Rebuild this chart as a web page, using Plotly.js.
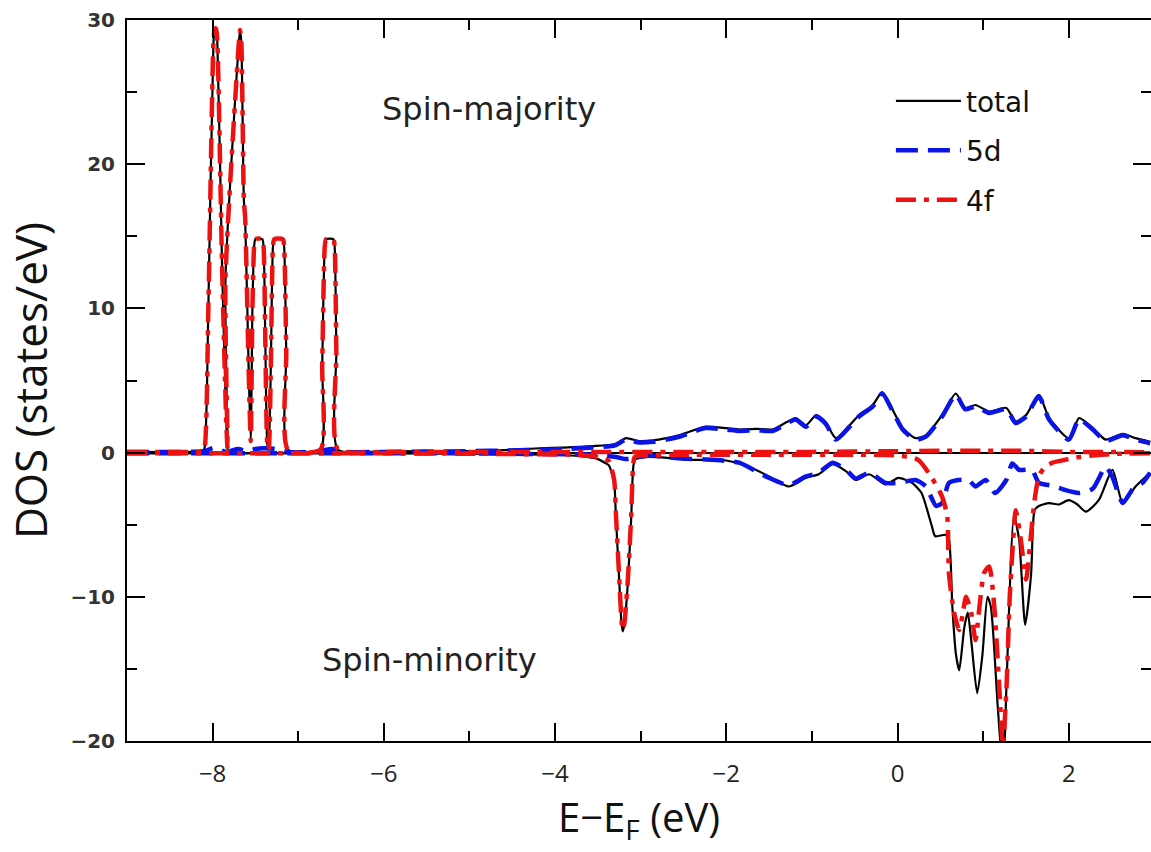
<!DOCTYPE html>
<html>
<head>
<meta charset="utf-8">
<script src="https://cdn.plot.ly/plotly-3.0.1.min.js"></script>
<style>html,body{margin:0;padding:0;background:#fff;}#chart{width:1151px;height:852px;}</style>
</head>
<body>
<div id="chart"></div>
<script>
// Energies (eV, relative to E_F) and DOS values (states/eV)
const totalUpE = [-9.0,-8.3,-8.12,-8.095,-8.05,-7.99,-7.975,-7.96,-7.945,-7.89,-7.84,-7.825,-7.85,-7.695,-7.68,-7.665,-7.635,-7.62,-7.58,-7.555,-7.535,-7.515,-7.50,-7.42,-7.405,-7.385,-7.36,-7.345,-7.32,-7.295,-7.28,-7.18,-7.165,-7.14,-7.12,-6.74,-6.72,-6.69,-6.675,-6.59,-6.575,-6.555,-6.535,-6.0,-5.0,-4.5,-4.18,-3.9,-3.56,-3.3,-3.17,-3.02,-2.85,-2.70,-2.55,-2.43,-2.24,-2.0,-1.85,-1.65,-1.46,-1.30,-1.19,-1.07,-0.95,-0.84,-0.72,-0.56,-0.45,-0.29,-0.18,-0.06,0.06,0.21,0.33,0.52,0.68,0.79,0.91,1.07,1.27,1.38,1.50,1.65,1.77,2.00,2.12,2.28,2.43,2.63,2.78,2.95];
const totalUp  = [0.05,0.05,0.1,0.3,10,28.5,29.4,29.4,28.5,13,2,0.2,12,28.3,29.3,28.5,17.5,16.3,6,0.8,10,14.3,14.8,14.8,14.3,8,0.5,0.2,6,14.3,14.8,14.8,14.3,7,0.2,0.2,6,14.3,14.8,14.8,14.3,7,0.2,0.1,0.1,0.2,0.3,0.35,0.45,0.6,1.0,0.8,0.85,1.0,1.2,1.45,1.8,1.7,1.6,1.65,1.6,2.1,2.4,1.9,2.6,2.1,1.0,1.9,2.6,3.3,4.2,3.0,1.7,1.0,1.2,2.6,4.1,3.1,3.3,2.85,3.1,2.15,2.6,4.0,2.4,1.0,2.4,1.7,0.9,1.3,1.0,0.75];

const totalDnE = [-9.0,-6.0,-4.5,-4.0,-3.7,-3.5,-3.42,-3.37,-3.31,-3.29,-3.25,-3.225,-3.21,-3.19,-3.15,-3.11,-3.09,-3.07,-3.0,-2.9,-2.63,-2.47,-2.2,-2.0,-1.77,-1.5,-1.27,-1.07,-0.92,-0.76,-0.6,-0.49,-0.33,-0.14,0.01,0.17,0.28,0.40,0.44,0.56,0.60,0.64,0.68,0.72,0.78,0.82,0.86,0.93,0.99,1.05,1.09,1.17,1.21,1.24,1.27,1.36,1.42,1.49,1.56,1.60,1.65,1.77,1.88,2.0,2.1,2.2,2.35,2.51,2.63,2.78,2.95];
const totalDn  = [-0.05,-0.05,-0.1,-0.15,-0.25,-0.45,-0.7,-0.9,-2.1,-4.4,-9.0,-11.8,-12.4,-11.9,-9.0,-4.4,-1.2,-0.5,-0.35,-0.3,-0.4,-0.5,-0.5,-0.55,-0.9,-1.65,-2.35,-1.75,-1.5,-0.8,-1.3,-1.9,-1.5,-2.2,-1.75,-2.1,-2.8,-5.1,-5.8,-5.7,-6.05,-10.7,-13.9,-15.1,-12.1,-11.1,-13.0,-16.7,-14.1,-10.0,-10.7,-17.6,-20.5,-21.0,-16.5,-4.4,-6.05,-11.95,-8.4,-4.0,-3.7,-3.5,-3.6,-3.3,-3.6,-4.1,-3.3,-1.2,-3.5,-2.35,-1.4];

const d5UpE = [-9.0,-8.3,-8.1,-7.97,-7.85,-7.7,-7.6,-7.5,-7.4,-7.25,-7.1,-6.8,-6.62,-6.45,-6.0,-5.0,-4.5,-4.18,-3.9,-3.56,-3.3,-3.17,-3.02,-2.85,-2.70,-2.55,-2.43,-2.24,-2.0,-1.85,-1.65,-1.46,-1.30,-1.19,-1.07,-0.95,-0.84,-0.72,-0.56,-0.45,-0.29,-0.18,-0.06,0.06,0.21,0.33,0.52,0.68,0.79,0.91,1.07,1.27,1.38,1.50,1.65,1.77,2.00,2.12,2.28,2.43,2.63,2.78,2.95];
const d5Up  = [0.05,0.05,0.1,0.35,0.05,0.25,0.1,0.25,0.3,0.25,0.05,0.05,0.25,0.05,0.05,0.1,0.15,0.2,0.25,0.35,0.5,0.9,0.7,0.75,0.9,1.1,1.35,1.7,1.6,1.5,1.55,1.5,2.0,2.3,1.8,2.5,2.0,0.9,1.8,2.5,3.2,4.1,2.9,1.6,0.9,1.1,2.5,4.0,3.0,3.2,2.75,3.0,2.05,2.5,3.9,2.3,0.9,2.3,1.6,0.8,1.2,0.9,0.65];

const d5DnE = [-9.0,-8.0,-7.0,-6.0,-5.0,-4.5,-4.18,-3.56,-3.29,-3.17,-2.9,-2.55,-2.16,-1.85,-1.54,-1.27,-1.07,-0.92,-0.76,-0.6,-0.49,-0.33,-0.14,0.01,0.21,0.33,0.45,0.52,0.60,0.71,0.83,0.91,1.03,1.14,1.27,1.34,1.42,1.57,1.65,1.81,1.96,2.12,2.28,2.43,2.51,2.63,2.75,2.86,2.95];
const d5Dn  = [-0.05,-0.05,-0.05,-0.05,-0.05,-0.08,-0.1,-0.15,-0.3,-0.45,-0.2,-0.4,-0.5,-0.7,-1.65,-2.25,-1.65,-1.4,-0.7,-1.2,-1.8,-1.4,-2.1,-2.1,-1.9,-2.35,-3.7,-3.5,-2.1,-1.9,-1.9,-2.35,-1.9,-2.8,-1.9,-0.75,-1.2,-1.2,-2.1,-2.3,-2.6,-2.8,-2.5,-1.0,-1.7,-3.5,-2.5,-2.1,-1.4];

const f4UpE = [-9.0,-8.3,-8.12,-8.095,-8.05,-7.99,-7.975,-7.96,-7.945,-7.89,-7.84,-7.825,-7.85,-7.695,-7.68,-7.665,-7.635,-7.62,-7.58,-7.555,-7.535,-7.515,-7.50,-7.42,-7.405,-7.385,-7.36,-7.345,-7.32,-7.295,-7.28,-7.18,-7.165,-7.14,-7.12,-6.74,-6.72,-6.69,-6.675,-6.59,-6.575,-6.555,-6.535,-6.0,-4.0,-2.0,-1.0,0.0,0.5,1.0,1.5,2.0,2.95];
const f4Up  = [0.05,0.05,0.1,0.3,10,28.5,29.4,29.4,28.5,13,2,0.2,12,28.3,29.3,28.5,17.5,16.3,6,0.8,10,14.3,14.8,14.8,14.3,8,0.5,0.2,6,14.3,14.8,14.8,14.3,7,0.2,0.2,6,14.3,14.8,14.8,14.3,7,0.2,0.05,0.05,0.05,0.05,0.1,0.12,0.12,0.12,0.05,0.03];

const f4DnE = [-9.0,-6.0,-4.5,-3.8,-3.5,-3.42,-3.37,-3.31,-3.29,-3.25,-3.225,-3.21,-3.19,-3.15,-3.11,-3.09,-3.07,-3.0,-2.5,-1.5,-0.5,0.0,0.24,0.39,0.52,0.58,0.60,0.66,0.72,0.76,0.80,0.86,0.91,0.96,1.01,1.07,1.13,1.19,1.23,1.27,1.31,1.35,1.38,1.44,1.50,1.56,1.60,1.65,1.72,1.81,1.96,2.12,2.28,2.5,2.95];
const f4Dn  = [-0.05,-0.05,-0.1,-0.15,-0.3,-0.45,-0.6,-1.9,-4.2,-8.8,-11.6,-12.3,-11.8,-8.8,-4.2,-1.0,-0.3,-0.2,-0.15,-0.15,-0.15,-0.2,-0.5,-1.65,-3.05,-4.4,-8.35,-11.1,-12.3,-11.2,-10.0,-11.1,-13.0,-10.5,-8.35,-7.9,-10.7,-16.5,-20.3,-16.6,-10.0,-6.05,-4.0,-6.05,-8.8,-5.6,-3.3,-1.65,-1.0,-0.7,-0.5,-0.3,-0.2,-0.1,-0.05];

const seriesNames = ['total', '5d', '4f'];
const xTitle = 'E\u2212E<sub>F</sub> (eV)';
const yTitle = 'DOS (states/eV)';
const labelMajority = 'Spin-majority';
const labelMinority = 'Spin-minority';

const totalLine = {color: '#000000', width: 2.2, shape: 'spline', smoothing: 0.6};
const d5Line = {color: '#0a14e6', width: 4.5, dash: '22px,10px', shape: 'spline', smoothing: 0.6};
const f4Line = {color: '#ee1111', width: 4.5, dash: '20px,8px,5px,8px', shape: 'spline', smoothing: 0.6};

function tr(x, y, name, line, show) {
  return {x: x, y: y, type: 'scatter', mode: 'lines', name: name, line: line,
          legendgroup: name, showlegend: show, hoverinfo: 'skip'};
}

const data = [
  tr(totalUpE, totalUp, seriesNames[0], totalLine, true),
  tr(totalDnE, totalDn, seriesNames[0], totalLine, false),
  tr(d5UpE, d5Up, seriesNames[1], d5Line, true),
  tr(d5DnE, d5Dn, seriesNames[1], d5Line, false),
  tr(f4UpE, f4Up, seriesNames[2], f4Line, true),
  tr(f4DnE, f4Dn, seriesNames[2], f4Line, false)
];

const axisCommon = {
  ticks: 'inside', tickwidth: 2, tickcolor: '#000',
  showline: true, linewidth: 2, linecolor: '#000', mirror: 'allticks',
  showgrid: false
};

const layout = {
  width: 1151, height: 852,
  margin: {l: 127, r: 0, t: 20, b: 111},
  paper_bgcolor: '#ffffff', plot_bgcolor: '#ffffff',
  showlegend: true,
  legend: {x: 0.746, y: 0.922, xanchor: 'left', yanchor: 'top',
           font: {family: 'DejaVu Sans', size: 28, color: '#111'},
           bgcolor: 'rgba(0,0,0,0)', tracegroupgap: 10, traceorder: 'grouped',
           itemwidth: 65},
  xaxis: Object.assign({}, axisCommon, {
    range: [-9, 2.96], tick0: 0, dtick: 2, ticklen: 18, zeroline: false,
    minor: {dtick: 1, ticks: 'inside', ticklen: 10, tickwidth: 2, tickcolor: '#000', showgrid: false},
    tickfont: {family: 'Liberation Sans Narrow, Open Sans', size: 24, color: '#222'},
    ticklabelstandoff: 10,
    title: {text: xTitle, font: {family: 'Open Sans', size: 40, color: '#111'}, standoff: 12}
  }),
  yaxis: Object.assign({}, axisCommon, {
    range: [-20, 30], tick0: 0, dtick: 10, ticklen: 18,
    zeroline: true, zerolinecolor: '#000', zerolinewidth: 2,
    minor: {dtick: 5, ticks: 'inside', ticklen: 10, tickwidth: 2, tickcolor: '#000', showgrid: false},
    tickfont: {family: 'DejaVu Sans', size: 20, color: '#333', weight: 'bold'},
    ticklabelstandoff: 6,
    title: {text: yTitle, font: {family: 'Open Sans', size: 44, color: '#111'}, standoff: 14}
  }),
  annotations: [
    {x: -4.77, y: 23.8, xref: 'x', yref: 'y', text: labelMajority, showarrow: false,
     font: {family: 'DejaVu Sans', size: 32, color: '#222'}},
    {x: -5.47, y: -14.4, xref: 'x', yref: 'y', text: labelMinority, showarrow: false,
     font: {family: 'DejaVu Sans', size: 32, color: '#222'}}
  ]
};

Plotly.newPlot('chart', data, layout, {displayModeBar: false, staticPlot: true});
</script>
</body>
</html>
